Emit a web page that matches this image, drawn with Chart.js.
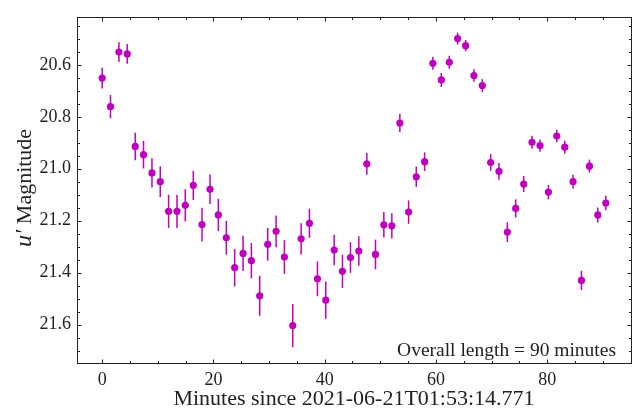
<!DOCTYPE html>
<html>
<head>
<meta charset="utf-8">
<script src="https://cdn.jsdelivr.net/npm/chart.js@4/dist/chart.umd.min.js"></script>
<style>
  html, body { margin: 0; padding: 0; background: #fff; }
  #wrap { width: 643px; height: 414px; }
</style>
</head>
<body>
<div id="wrap"><canvas id="lc" width="643" height="414"></canvas></div>
<script>
// u' light curve: minutes since start of the run, magnitude and 1-sigma error
const minutes = [0, 1.49, 3.01, 4.50, 5.94, 7.43, 8.95, 10.44, 11.94, 13.45,
  14.94, 16.38, 17.95, 19.39, 20.88, 22.32, 23.82, 25.33, 26.82, 28.32,
  29.76, 31.27, 32.76, 34.26, 35.77, 37.26, 38.70, 40.20, 41.71, 43.20,
  44.64, 46.14, 47.58, 49.14, 50.64, 52.08, 53.52, 55.09, 56.47, 57.97,
  59.46, 60.97, 62.41, 63.91, 65.35, 66.84, 68.35, 69.85, 71.34, 72.85,
  74.35, 75.79, 77.28, 78.72, 80.23, 81.73, 83.17, 84.66, 86.17, 87.61,
  89.11, 90.55];
const magnitudes = [20.651, 20.761, 20.551, 20.558, 20.914, 20.946, 21.016, 21.050, 21.164, 21.164,
  21.141, 21.064, 21.215, 21.079, 21.178, 21.266, 21.381, 21.326, 21.354, 21.489,
  21.291, 21.241, 21.340, 21.604, 21.270, 21.210, 21.424, 21.506, 21.313, 21.395,
  21.342, 21.317, 20.981, 21.330, 21.216, 21.220, 20.824, 21.167, 21.031, 20.973,
  20.594, 20.658, 20.590, 20.499, 20.526, 20.641, 20.680, 20.976, 21.010, 21.244,
  21.153, 21.059, 20.898, 20.911, 21.090, 20.874, 20.917, 21.050, 21.430, 20.990,
  21.178, 21.132];
const magErrors = [0.040, 0.045, 0.038, 0.038, 0.053, 0.053, 0.056, 0.059, 0.064, 0.064,
  0.062, 0.056, 0.065, 0.057, 0.062, 0.065, 0.072, 0.068, 0.068, 0.077,
  0.063, 0.061, 0.065, 0.083, 0.060, 0.056, 0.067, 0.072, 0.059, 0.064,
  0.059, 0.057, 0.042, 0.057, 0.049, 0.049, 0.035, 0.045, 0.039, 0.036,
  0.025, 0.027, 0.025, 0.023, 0.022, 0.024, 0.025, 0.032, 0.032, 0.038,
  0.035, 0.031, 0.025, 0.024, 0.028, 0.024, 0.025, 0.027, 0.037, 0.025,
  0.029, 0.028];

const xTicks = [0, 20, 40, 60, 80];
const yTicks = [20.6, 20.8, 21.0, 21.2, 21.4, 21.6];
const xTitle = 'Minutes since 2021-06-21T01:53:14.771';
const yTitleSymbol = 'u\u2032';
const yTitleWord = 'Magnitude';
const noteText = 'Overall length = 90 minutes';

const MAGENTA = '#bf00bf';
const SERIF = '"Liberation Serif", "DejaVu Serif", serif';

const points = minutes.map((m, i) => ({ x: m, y: magnitudes[i] }));

// vertical error bars, drawn under the markers
const errorBars = {
  id: 'errorBars',
  beforeDatasetsDraw(chart) {
    const { ctx, scales: { x, y } } = chart;
    ctx.save();
    ctx.strokeStyle = MAGENTA;
    ctx.lineWidth = 1.5;
    minutes.forEach((m, i) => {
      const px = x.getPixelForValue(m);
      ctx.beginPath();
      ctx.moveTo(px, y.getPixelForValue(magnitudes[i] - magErrors[i]));
      ctx.lineTo(px, y.getPixelForValue(magnitudes[i] + magErrors[i]));
      ctx.stroke();
    });
    ctx.restore();
  }
};

// boxed frame with inward major/minor ticks on all four sides, plus y title and note
const frame = {
  id: 'frame',
  afterDraw(chart) {
    const { ctx, chartArea: a, scales: { x, y } } = chart;
    ctx.save();
    ctx.strokeStyle = '#222';
    ctx.lineWidth = 1;
    const L = Math.round(a.left) + 0.5, R = Math.round(a.right) + 0.5;
    const T = Math.round(a.top) + 0.5, B = Math.round(a.bottom) + 0.5;
    ctx.strokeRect(L, T, R - L, B - T);

    const tick = (x1, y1, x2, y2) => { ctx.beginPath(); ctx.moveTo(x1, y1); ctx.lineTo(x2, y2); ctx.stroke(); };
    // x ticks: major every 20, minor every 5
    for (let v = -5; v <= 100; v += 5) {
      if (v < x.min || v > x.max) continue;
      const p = Math.round(x.getPixelForValue(v)) + 0.5;
      const len = (v % 20 === 0) ? 4 : 2.5;
      tick(p, B, p, B - len);
      tick(p, T, p, T + len);
    }
    // y ticks: major every 0.2, minor every 0.05
    for (let k = 408; k <= 436; k++) {
      const v = k * 0.05;
      if (v < y.min || v > y.max) continue;
      const p = Math.round(y.getPixelForValue(v)) + 0.5;
      const len = (k % 4 === 0) ? 4 : 2.5;
      tick(L, p, L + len, p);
      tick(R, p, R - len, p);
    }

    // note in the lower right corner
    ctx.fillStyle = '#222';
    ctx.font = '19.5px ' + SERIF;
    ctx.textAlign = 'right';
    ctx.textBaseline = 'alphabetic';
    ctx.fillText(noteText, a.right - 15, a.bottom - 7.5);

    // rotated y title: italic u-prime followed by upright word
    ctx.translate(25, (a.top + a.bottom) / 2 - 2);
    ctx.rotate(-Math.PI / 2);
    ctx.textBaseline = 'middle';
    ctx.textAlign = 'left';
    const fSym = 'italic 24px ' + SERIF;
    const fWord = '22px ' + SERIF;
    ctx.font = fSym;
    const wSym = ctx.measureText(yTitleSymbol).width;
    ctx.font = fWord;
    const wGap = ctx.measureText(' ').width;
    const wWord = ctx.measureText(yTitleWord).width;
    const start = -(wSym + wGap + wWord) / 2;
    ctx.font = fSym;
    ctx.fillText(yTitleSymbol, start, 0);
    ctx.font = fWord;
    ctx.fillText(yTitleWord, start + wSym + wGap, 0);
    ctx.restore();
  }
};

new Chart(document.getElementById('lc'), {
  type: 'scatter',
  data: {
    datasets: [{
      data: points,
      backgroundColor: MAGENTA,
      borderColor: MAGENTA,
      pointRadius: 3.6,
      pointHoverRadius: 3.6,
      borderWidth: 0
    }]
  },
  options: {
    responsive: false,
    animation: false,
    devicePixelRatio: 1,
    layout: { padding: { left: 0, right: 12, top: 3, bottom: 0 } },
    plugins: { legend: { display: false }, tooltip: { enabled: false } },
    scales: {
      x: {
        type: 'linear',
        min: -4.53,
        max: 95.08,
        afterBuildTicks: s => { s.ticks = xTicks.map(v => ({ value: v })); },
        afterFit: s => { s.height = 51; },
        grid: { display: false, drawTicks: false },
        border: { display: false },
        ticks: { color: '#222', padding: 6, maxRotation: 0, font: { family: SERIF, size: 18 } },
        title: { display: true, text: xTitle, color: '#222', padding: { top: 0, bottom: 2 }, font: { family: SERIF, size: 22 } }
      },
      y: {
        type: 'linear',
        reverse: true,
        min: 20.415,
        max: 21.748,
        afterBuildTicks: s => { s.ticks = yTicks.map(v => ({ value: v })); },
        afterFit: s => { s.width = 77; },
        grid: { display: false, drawTicks: false },
        border: { display: false },
        ticks: { color: '#222', padding: 6, callback: v => v.toFixed(1), font: { family: SERIF, size: 18 } }
      }
    }
  },
  plugins: [errorBars, frame]
});
</script>
</body>
</html>
